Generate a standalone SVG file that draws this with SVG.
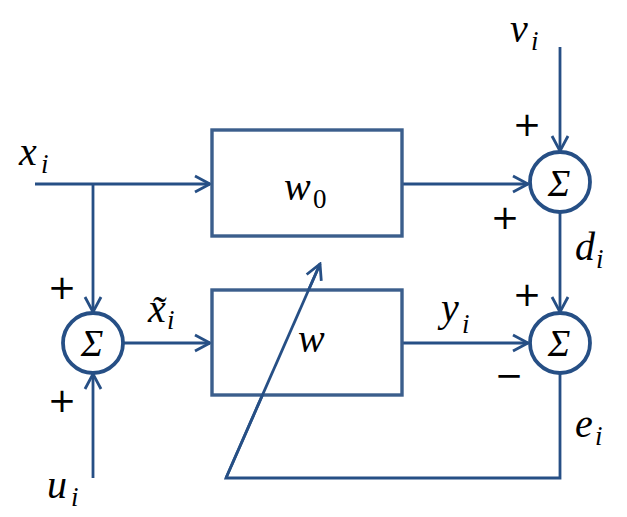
<svg xmlns="http://www.w3.org/2000/svg" width="627" height="517" viewBox="0 0 627 517">
<defs>
<style>
.box{fill:#fff;stroke:#3B5E8C;stroke-width:3.4}
.sum{fill:#fff;stroke:#264F85;stroke-width:3.8}
.wire{fill:none;stroke:#264F85;stroke-width:2.8;stroke-linejoin:miter}
.m{font-family:"Liberation Serif","DejaVu Serif",serif;font-style:italic;font-size:40px;fill:#000}
.s{font-size:27px}
.up{font-style:normal}
.sg{font-family:"Liberation Serif","DejaVu Serif",serif;font-style:italic;font-size:38px;fill:#000;text-anchor:middle}
.p{font-family:"DejaVu Sans","Liberation Sans",sans-serif;font-size:34px;fill:#000;text-anchor:middle}
</style>
<marker id="ah" viewBox="-17 -10 19 20" refX="0" refY="0" markerWidth="19" markerHeight="20" markerUnits="userSpaceOnUse" orient="auto">
<path d="M-15 -8 L0 0 L-15 8" fill="none" stroke="#264F85" stroke-width="2.8"/>
</marker>
</defs>
<rect width="627" height="517" fill="#fff"/>
<g id="connectors">
<path class="wire" d="M35 184 H210" marker-end="url(#ah)"/>
<path class="wire" d="M93 184 V312" marker-end="url(#ah)"/>
<path class="wire" d="M124 343 H210" marker-end="url(#ah)"/>
<path class="wire" d="M93 478 V374" marker-end="url(#ah)"/>
<path class="wire" d="M403 184 H528" marker-end="url(#ah)"/>
<path class="wire" d="M560 47 V151" marker-end="url(#ah)"/>
<path class="wire" d="M560 213 V312" marker-end="url(#ah)"/>
<path class="wire" d="M403 343 H528" marker-end="url(#ah)"/>
<path class="wire" d="M560 374 V478 H226 L320 264" marker-end="url(#ah)"/>
</g>
<g id="w0">
<rect class="box" x="212" y="130" width="190" height="106"/>
<text class="m" x="284" y="200">w<tspan class="s up" x="313" y="208">0</tspan></text>
</g>
<g id="w">
<rect class="box" x="212" y="290" width="190" height="105"/>
</g>
<path class="wire" d="M226 478 L320 264"/>
<text class="m" x="298" y="352">w</text>
<g id="sum1">
<circle class="sum" cx="93" cy="343" r="30"/>
<text class="sg" x="92" y="356">Σ</text>
</g>
<g id="sum2">
<circle class="sum" cx="560" cy="182" r="30"/>
<text class="sg" x="559" y="196">Σ</text>
</g>
<g id="sum3">
<circle class="sum" cx="560" cy="343" r="30"/>
<text class="sg" x="559" y="356">Σ</text>
</g>
<g id="labels">
<text class="m" x="19" y="165">x<tspan class="s" x="41" y="173">i</tspan></text>
<text class="m" x="510" y="42">v<tspan class="s" x="531" y="50">i</tspan></text>
<text class="m" x="575" y="260">d<tspan class="s" x="596" y="268">i</tspan></text>
<text class="m" x="575" y="437">e<tspan class="s" x="595" y="445">i</tspan></text>
<text class="m" x="441" y="321">y<tspan class="s" x="462" y="333">i</tspan></text>
<text class="m" x="148" y="322">x̃<tspan class="s" x="167" y="329">i</tspan></text>
<text class="m" x="47" y="498">u<tspan class="s" x="71" y="506">i</tspan></text>
<text class="p" x="527" y="136">+</text>
<text class="p" x="505" y="229">+</text>
<text class="p" x="527" y="306">+</text>
<text class="p" x="509" y="387">−</text>
<text class="p" x="62" y="299">+</text>
<text class="p" x="62" y="412">+</text>
</g>
</svg>
